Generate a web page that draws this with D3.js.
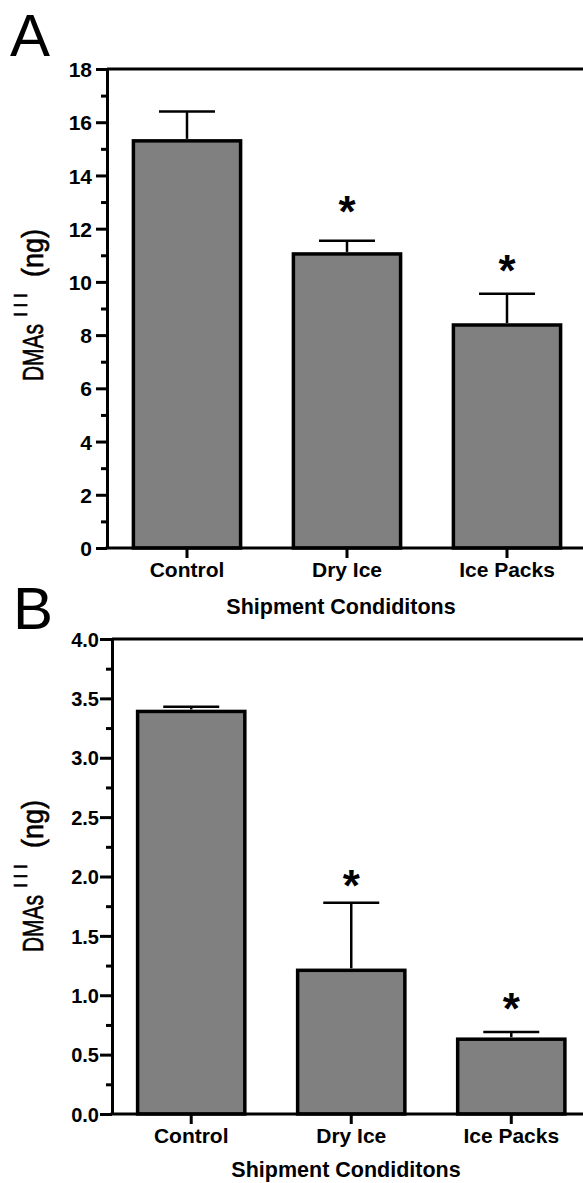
<!DOCTYPE html>
<html>
<head>
<meta charset="utf-8">
<script src="https://cdn.jsdelivr.net/npm/d3@7"></script>
<style>
  body { margin: 0; background: #fff; }
  svg { display: block; }
  text { font-family: "Liberation Sans", Arial, sans-serif; fill: #000; }
</style>
</head>
<body>
<script>
'use strict'

// data
var categories = ['Control', 'Dry Ice', 'Ice Packs']

var meanA = [15.3, 11.05, 8.38]
var semA = [1.1, 0.5, 1.17]
var starA = [null, 12.97, 10.75]
var ticksA = [0, 2, 4, 6, 8, 10, 12, 14, 16, 18]
var minorA = [1, 3, 5, 7, 9, 11, 13, 15, 17]

var meanB = [3.39, 1.21, 0.63]
var semB = [0.04, 0.57, 0.06]
var starB = [null, 2.0, 0.96]
var ticksB = [0, 0.5, 1.0, 1.5, 2.0, 2.5, 3.0, 3.5, 4.0]
var minorB = [0.25, 0.75, 1.25, 1.75, 2.25, 2.75, 3.25, 3.75]

var W = 583, H = 1183

var svg = d3.select('body').append('svg')
  .attr('width', W)
  .attr('height', H)

function drawPanel (opts) {
  var g = svg.append('g')

  var y = d3.scaleLinear().domain(opts.domain).range([opts.y0, opts.y1])
  var x = d3.scaleBand().domain(categories)
    .range([opts.x0, opts.x0 + 3 * opts.step])
    .paddingInner(0.33)
    .paddingOuter(opts.outer)

  // frame: top line and bottom line run off the right edge
  g.append('line')
    .attr('x1', opts.x0).attr('x2', W + 5)
    .attr('y1', y(opts.domain[1])).attr('y2', y(opts.domain[1]))
    .attr('stroke', '#000').attr('stroke-width', 3)

  // bars
  g.selectAll('rect.bar')
    .data(opts.mean)
    .enter().append('rect')
    .attr('class', 'bar')
    .attr('x', function (d, i) { return x(categories[i]) })
    .attr('width', x.bandwidth())
    .attr('y', function (d) { return y(d) })
    .attr('height', function (d) { return y(0) - y(d) })
    .attr('fill', '#808080')
    .attr('stroke', '#000')
    .attr('stroke-width', 3.5)

  // error bars (upper only)
  var err = g.selectAll('g.err')
    .data(opts.mean)
    .enter().append('g')
    .attr('class', 'err')
  err.append('line')
    .attr('x1', function (d, i) { return x(categories[i]) + x.bandwidth() / 2 })
    .attr('x2', function (d, i) { return x(categories[i]) + x.bandwidth() / 2 })
    .attr('y1', function (d) { return y(d) - 2 })
    .attr('y2', function (d, i) { return y(d + opts.sem[i]) })
    .attr('stroke', '#000').attr('stroke-width', 2.5)
  err.append('line')
    .attr('x1', function (d, i) { return x(categories[i]) + x.bandwidth() / 2 - 28 })
    .attr('x2', function (d, i) { return x(categories[i]) + x.bandwidth() / 2 + 28 })
    .attr('y1', function (d, i) { return y(d + opts.sem[i]) })
    .attr('y2', function (d, i) { return y(d + opts.sem[i]) })
    .attr('stroke', '#000').attr('stroke-width', 2.5)

  // significance stars
  g.selectAll('text.star')
    .data(opts.star.filter(function (s) { return s !== null }))
    .enter().append('text')
    .attr('class', 'star')
    .attr('x', function (d) { return x(categories[opts.star.indexOf(d)]) + x.bandwidth() / 2 })
    .attr('y', function (d) { return y(d) + 24 })
    .attr('text-anchor', 'middle')
    .style('font-size', '44px')
    .style('font-weight', 'bold')
    .text('*')

  // y axis
  var yAxis = g.append('g')
    .attr('transform', 'translate(' + opts.x0 + ',0)')
    .call(d3.axisLeft(y).tickValues(opts.ticks).tickFormat(opts.fmt)
      .tickSize(opts.tick).tickPadding(opts.pad).tickSizeOuter(0))
  yAxis.select('.domain').attr('stroke-width', 3)
  yAxis.selectAll('.tick line').attr('stroke-width', 3)
  yAxis.selectAll('.tick text')
    .style('font-size', opts.tickFont + 'px')
    .style('font-weight', 'bold')
    .attr('dy', '0.36em')

  g.append('g')
    .attr('transform', 'translate(' + opts.x0 + ',0)')
    .call(d3.axisLeft(y).tickValues(opts.minor).tickFormat('').tickSize(6).tickSizeOuter(0))
    .call(function (a) {
      a.select('.domain').remove()
      a.selectAll('.tick line').attr('stroke-width', 3)
    })

  // x axis
  var xAxis = g.append('g')
    .attr('transform', 'translate(0,' + y(0) + ')')
    .call(d3.axisBottom(x).tickSize(10).tickPadding(4).tickSizeOuter(0))
  xAxis.select('.domain')
    .attr('d', 'M' + (opts.x0 - 1.5) + ',0H' + (W + 5))
    .attr('stroke-width', 3)
  xAxis.selectAll('.tick line').attr('stroke-width', 3)
  xAxis.selectAll('.tick text')
    .style('font-size', '21px')
    .style('font-weight', 'bold')

  // x title
  g.append('text')
    .attr('x', opts.titleX)
    .attr('y', y(0) + opts.titleGap)
    .attr('text-anchor', 'middle')
    .style('font-size', '21.5px')
    .style('font-weight', 'bold')
    .text('Shipment Condiditons')

  // y title, rotated: DMAs + superscript III + (ng)
  var yt = g.append('g')
    .attr('transform', 'translate(43,' + opts.titleY + ') rotate(-90)')
    .style('stroke', '#000')
    .style('stroke-width', 0.6)
  yt.append('text')
    .attr('x', -76).attr('y', 0)
    .attr('textLength', 57).attr('lengthAdjust', 'spacingAndGlyphs')
    .style('font-size', '29px')
    .text('DMAs')
  yt.append('text')
    .attr('x', -12).attr('y', -16)
    .attr('textLength', 24).attr('lengthAdjust', 'spacing')
    .style('font-size', '19px')
    .text('III')
  yt.append('text')
    .attr('x', 28).attr('y', 0)
    .attr('textLength', 48).attr('lengthAdjust', 'spacingAndGlyphs')
    .style('font-size', '29px')
    .text('(ng)')

  // panel letter
  g.append('text')
    .attr('x', opts.letterX)
    .attr('y', opts.letterY)
    .style('font-size', '60px')
    .text(opts.letter)
}

drawPanel({
  letter: 'A', letterX: 10, letterY: 56,
  mean: meanA, sem: semA, star: starA,
  ticks: ticksA, minor: minorA, fmt: d3.format('d'),
  domain: [0, 18], y0: 548, y1: 69,
  x0: 107, step: 160, outer: 0.165,
  tick: 11, pad: 4, tickFont: 21,
  titleX: 341, titleY: 305, titleGap: 66
})

drawPanel({
  letter: 'B', letterX: 13, letterY: 629,
  mean: meanB, sem: semB, star: starB,
  ticks: ticksB, minor: minorB, fmt: d3.format('.1f'),
  domain: [0, 4], y0: 1114, y1: 639,
  x0: 112, step: 159.5, outer: 0.16,
  tick: 12, pad: 1, tickFont: 20,
  titleX: 346, titleY: 876, titleGap: 63
})
</script>
</body>
</html>
